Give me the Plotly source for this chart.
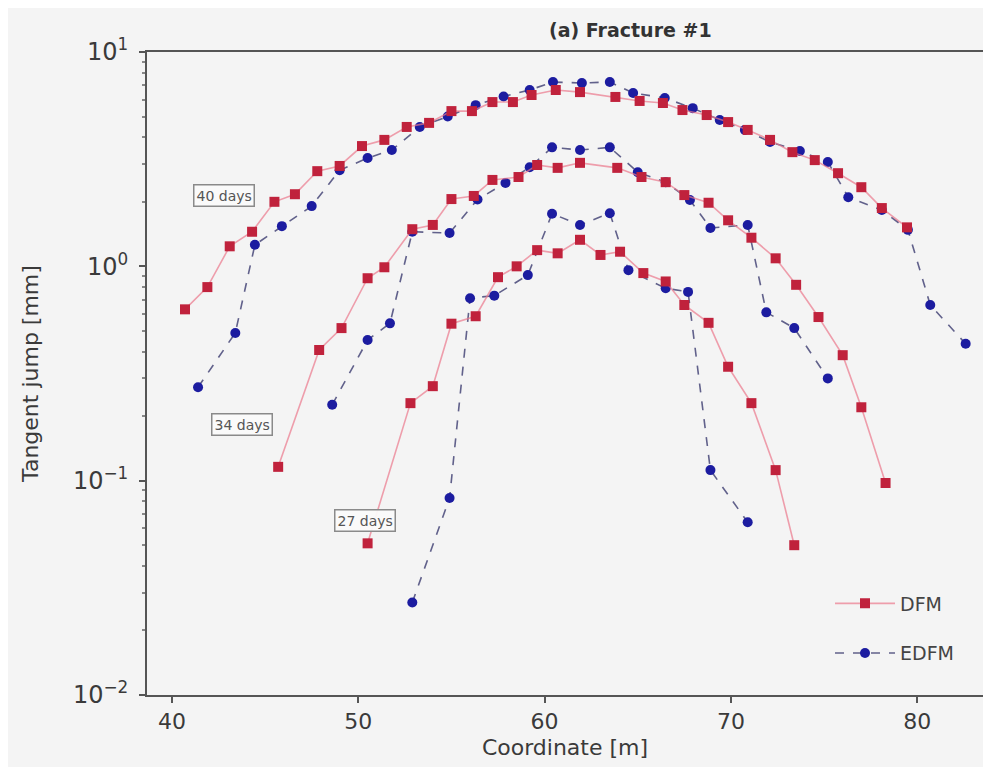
import math
import plotly.graph_objects as go

# ---- data ----
dfm_40_x = [40.7, 41.9, 43.1, 44.3, 45.5, 46.6, 47.8, 49.0, 50.2, 51.4, 52.6, 53.8, 55.0, 56.1, 57.2, 58.3,
            59.3, 60.6, 61.9, 63.8, 65.1, 66.35, 67.4, 68.7, 69.85, 70.9, 72.1, 73.3, 74.5, 75.75, 77.0, 78.1, 79.45]
dfm_40_y = [0.63, 0.80, 1.24, 1.45, 2.0, 2.17, 2.78, 2.94, 3.64, 3.89, 4.47, 4.67, 5.3, 5.3, 5.84, 5.84,
            6.3, 6.65, 6.5, 6.17, 5.91, 5.78, 5.36, 5.08, 4.71, 4.33, 3.89, 3.41, 3.13, 2.72, 2.34, 1.87, 1.52]

edfm_40_x = [41.4, 43.4, 44.45, 45.9, 47.5, 49.0, 50.5, 51.8, 53.3, 54.8, 56.3, 57.8, 59.2, 60.45, 62.0,
             63.5, 64.75, 66.45, 67.95, 69.4, 70.75, 72.1, 73.7, 75.2, 76.3, 78.1, 79.5, 80.7, 82.6]
edfm_40_y = [0.273, 0.489, 1.26, 1.54, 1.91, 2.81, 3.2, 3.49, 4.47, 5.0, 5.65, 6.2, 6.65, 7.24, 7.17,
             7.24, 6.44, 6.1, 5.47, 4.82, 4.33, 3.80, 3.45, 3.07, 2.1, 1.83, 1.48, 0.66, 0.435]

dfm_34_x = [45.7, 47.9, 49.1, 50.5, 51.4, 52.9, 54.0, 55.0, 56.2, 57.2, 58.6, 59.6, 60.7, 61.9, 63.9,
            65.2, 66.5, 67.5, 68.8, 69.85, 71.1, 72.4, 73.5, 74.7, 76.0, 77.0, 78.3]
dfm_34_y = [0.116, 0.407, 0.515, 0.88, 0.99, 1.49, 1.56, 2.06, 2.13, 2.53, 2.61, 2.97, 2.88, 3.04, 2.88,
            2.61, 2.47, 2.15, 1.98, 1.64, 1.36, 1.09, 0.82, 0.58, 0.385, 0.22, 0.0975]

edfm_34_x = [48.6, 50.5, 51.7, 52.9, 54.9, 56.4, 57.9, 59.2, 60.4, 61.9, 63.5, 65.0, 66.5, 67.8, 68.9,
             70.9, 71.9, 73.4, 75.2]
edfm_34_y = [0.226, 0.453, 0.542, 1.45, 1.43, 2.05, 2.45, 2.9, 3.59, 3.49, 3.59, 2.75, 2.47, 2.04, 1.51,
             1.56, 0.61, 0.515, 0.30]

dfm_27_x = [50.5, 52.8, 54.0, 55.0, 56.3, 57.5, 58.5, 59.6, 60.7, 61.9, 63.0, 64.05, 65.3, 66.5, 67.5,
            68.8, 69.85, 71.1, 72.4, 73.4]
dfm_27_y = [0.051, 0.23, 0.276, 0.54, 0.585, 0.89, 1.0, 1.19, 1.15, 1.33, 1.13, 1.17, 0.93, 0.85, 0.66,
            0.545, 0.34, 0.23, 0.112, 0.05]

edfm_27_x = [52.9, 54.9, 56.0, 57.3, 59.1, 60.4, 61.9, 63.5, 64.5, 66.5, 67.7, 68.9, 70.9]
edfm_27_y = [0.027, 0.083, 0.71, 0.73, 0.91, 1.76, 1.56, 1.77, 0.96, 0.79, 0.76, 0.112, 0.064]

day_labels = ["40 days", "34 days", "27 days"]
label_x = [42.8, 43.76, 50.36]
label_y = [2.13, 0.182, 0.0655]

x_ticks = [40, 50, 60, 70, 80]
y_ticks = [0.01, 0.1, 1, 10]
y_ticktext = ["10<sup>−2</sup>", "10<sup>−1</sup>", "10<sup>0</sup>", "10<sup>1</sup>"]
y_minor = [m * 10 ** e for e in (-2, -1, 0) for m in range(2, 10)]

# ---- styles ----
RED = "#c0223c"
BLUE = "#1c1ca0"
RED_LINE = "rgba(235,120,140,0.7)"
BLUE_LINE = "rgba(70,70,120,0.85)"
BG = "#f4f4f4"
AX = "#555555"
TXT = "#3a3a3a"
FONT = "DejaVu Sans"

fig = go.Figure()

edfm_sets = [(edfm_40_x, edfm_40_y), (edfm_34_x, edfm_34_y), (edfm_27_x, edfm_27_y)]
dfm_sets = [(dfm_40_x, dfm_40_y), (dfm_34_x, dfm_34_y), (dfm_27_x, dfm_27_y)]

for i, (xs, ys) in enumerate(edfm_sets):
    fig.add_trace(go.Scatter(
        x=xs, y=ys, mode="lines+markers", name="EDFM",
        legendgroup="edfm", legendrank=2, showlegend=(i == 0),
        line=dict(color=BLUE_LINE, width=1.6, dash="dash"),
        marker=dict(color=BLUE, size=10, symbol="circle"),
    ))

for i, (xs, ys) in enumerate(dfm_sets):
    fig.add_trace(go.Scatter(
        x=xs, y=ys, mode="lines+markers", name="DFM",
        legendgroup="dfm", legendrank=1, showlegend=(i == 0),
        line=dict(color=RED_LINE, width=1.6),
        marker=dict(color=RED, size=10, symbol="square"),
    ))

for t, lx, ly in zip(day_labels, label_x, label_y):
    fig.add_annotation(
        x=lx, y=math.log10(ly), xref="x", yref="y", text=t, showarrow=False,
        font=dict(family=FONT, size=14, color="#555555"),
        bgcolor="rgba(250,250,250,0.95)", bordercolor="#8a8a8a", borderwidth=1.5, borderpad=2,
    )

fig.add_annotation(
    x=(630 - 147) / (983 - 147), y=1.0, xref="paper", yref="paper", yanchor="bottom",
    yshift=9, text="<b>(a) Fracture #1</b>", showarrow=False,
    font=dict(family=FONT, size=19, color="#333333"),
)

fig.update_layout(
    width=975, height=759,
    margin=dict(l=139, r=0, t=44, b=72),
    paper_bgcolor=BG, plot_bgcolor=BG,
    font=dict(family=FONT, color=TXT),
    showlegend=True,
    legend=dict(
        x=(830 - 147) / (983 - 147), y=0.035, xanchor="left", yanchor="bottom",
        bgcolor="rgba(0,0,0,0)", font=dict(family=FONT, size=19, color="#444444"),
        traceorder="grouped", tracegroupgap=22, itemwidth=60,
    ),
    xaxis=dict(
        range=[38.66, 83.53], tickvals=x_ticks, showgrid=False, zeroline=False,
        showline=True, linecolor=AX, linewidth=2, mirror=True,
        ticks="outside", ticklen=6, tickcolor=AX, tickwidth=1.5,
        tickfont=dict(family=FONT, size=22, color=TXT),
        title=dict(text="Coordinate [m]", font=dict(family=FONT, size=22, color=TXT), standoff=6),
    ),
    yaxis=dict(
        type="log", range=[-2, 1], tickvals=y_ticks, ticktext=y_ticktext,
        showgrid=False, zeroline=False,
        showline=True, linecolor=AX, linewidth=2, mirror=False,
        ticks="outside", ticklen=6, tickcolor=AX, tickwidth=1.5,
        ticklabelstandoff=6,
        minor=dict(tickmode="array", tickvals=y_minor, ticks="outside", ticklen=3,
                   tickcolor="#888888", showgrid=False),
        tickfont=dict(family=FONT, size=24, color=TXT),
        title=dict(text="Tangent jump [mm]", font=dict(family=FONT, size=22, color=TXT), standoff=28),
    ),
)

fig.write_html("out.html")
